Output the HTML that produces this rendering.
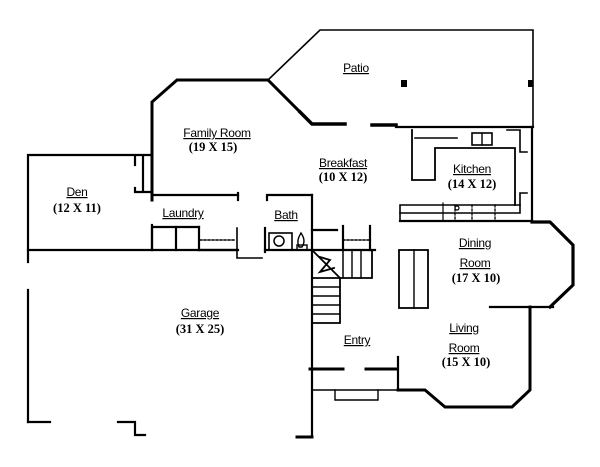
<!DOCTYPE html>
<html><head><meta charset="utf-8"><style>
html,body{margin:0;padding:0;background:#fff}
svg{display:block}
.l{font-family:"Liberation Sans",sans-serif;font-size:12px;text-decoration:underline;text-anchor:middle;fill:#000;letter-spacing:-0.3px}
.d{font-family:"Liberation Serif",serif;font-size:12.5px;font-weight:bold;text-anchor:middle;fill:#000}
</style></head><body>
<svg width="600" height="467" viewBox="0 0 600 467" xmlns="http://www.w3.org/2000/svg">
<g fill="none" stroke="#000" stroke-width="2.2" stroke-linecap="square">
<!-- patio -->
<polyline points="268,80 320,30 533,30 533,127" stroke-width="1.6"/>
<line x1="396" y1="127" x2="533" y2="127"/>
<!-- family room -->
<polyline points="152,200 152,102 177,80 268,80 300,112" stroke-width="3"/>
<polyline points="300,112 312,124 345,124" stroke-width="3.5"/>
<line x1="372" y1="125" x2="396" y2="125" stroke-width="3.5"/>
<line x1="152" y1="225" x2="152" y2="250"/>
<!-- den -->
<polyline points="152,155 28,155 28,262" />
<line x1="28" y1="290" x2="28" y2="422"/>
<line x1="28" y1="250" x2="238" y2="250"/>
<line x1="135" y1="157" x2="135" y2="165"/>
<line x1="143" y1="157" x2="143" y2="192" stroke-dasharray="2,2"/>
<polyline points="135,188 135,192 150,192"/>
<!-- laundry/bath -->
<line x1="152" y1="195" x2="238" y2="195"/>
<line x1="238" y1="193" x2="238" y2="200"/>
<polyline points="267,200 267,195 312,195"/>
<polyline points="152,250 152,227 199,227"/>
<line x1="176" y1="227" x2="176" y2="250"/>
<line x1="199" y1="227" x2="199" y2="250"/>
<line x1="199" y1="250" x2="237" y2="250"/>
<line x1="200" y1="240" x2="236" y2="240" stroke-dasharray="2,2" stroke-width="1.5"/>
<polyline points="237,228 237,258 262,258" stroke-width="1.6"/>
<line x1="265" y1="228" x2="265" y2="252"/>
<line x1="265" y1="250" x2="375" y2="250"/>
<rect x="269" y="233" width="23" height="17" stroke-width="1.6"/>
<circle cx="279" cy="241" r="5" stroke-width="1.5"/>
<path d="M299,247 C296,240 300,235 301,233 C303,236 306,241 302,247 Z" stroke-width="1.4"/>
<rect x="297" y="245" width="10" height="5" stroke-width="1.4"/>
<!-- stairs -->
<line x1="312" y1="195" x2="312" y2="437"/>
<line x1="297" y1="437" x2="312" y2="437" stroke-width="3"/>
<line x1="312" y1="230" x2="337" y2="230"/>
<line x1="343" y1="226" x2="343" y2="250"/>
<line x1="370" y1="226" x2="370" y2="250"/>
<line x1="343" y1="240" x2="370" y2="240" stroke-dasharray="2,2" stroke-width="1.5"/>
<polyline points="312,250 340,278 372,278 372,250" stroke-width="1.8"/>
<line x1="343" y1="250" x2="343" y2="278" stroke-width="1.5"/>
<line x1="352" y1="250" x2="352" y2="278" stroke-width="1.4"/>
<line x1="361" y1="250" x2="361" y2="278" stroke-width="1.4"/>
<polyline points="320,257 330,260 320,272 334,268" stroke-width="1.8"/>
<polyline points="312,278 340,278 340,323 312,323" stroke-width="1.8"/>
<line x1="312" y1="287" x2="340" y2="287" stroke-width="1.4"/>
<line x1="312" y1="296" x2="340" y2="296" stroke-width="1.4"/>
<line x1="312" y1="305" x2="340" y2="305" stroke-width="1.4"/>
<line x1="312" y1="314" x2="340" y2="314" stroke-width="1.4"/>
<!-- garage -->
<line x1="28" y1="422" x2="50" y2="422"/>
<polyline points="118,422 135,422 135,435 145,435"/>
<!-- entry -->
<line x1="310" y1="369" x2="343" y2="369" stroke-width="3"/>
<line x1="366" y1="369" x2="397" y2="369" stroke-width="3"/>
<line x1="312" y1="390" x2="397" y2="390" stroke-width="1.4"/>
<polyline points="335,390 335,400 378,400 378,390" stroke-width="1.4"/>
<line x1="398" y1="357" x2="398" y2="390"/>
<!-- living -->
<polyline points="398,390 425,390 445,407 512,407 530,390 530,307" stroke-width="3"/>
<line x1="490" y1="307" x2="553" y2="307"/>
<!-- dining bay -->
<polyline points="532,222 550,222 573,245 573,285 550,307" stroke-width="3.2"/>
<rect x="399" y="250" width="29" height="58" stroke-width="1.8"/>
<line x1="414" y1="250" x2="414" y2="308" stroke-width="1.4"/>
<!-- kitchen -->
<line x1="532" y1="127" x2="532" y2="222"/>
<line x1="400" y1="221" x2="532" y2="221"/>
<polyline points="412,130 412,180 435,180 435,148 515,148 515,205" stroke-width="1.8"/>
<line x1="415" y1="138" x2="457" y2="138" stroke-width="1.6"/>
<rect x="472" y="133" width="20" height="12" stroke-width="1.6"/>
<line x1="482" y1="133" x2="482" y2="145" stroke-width="1.4"/>
<polyline points="507,130 520,130 520,152 527,152" stroke-width="1.6"/>
<polyline points="527,193 520,193 520,213 400,213" stroke-width="1.6"/>
<polyline points="520,205 400,205 400,221" stroke-width="1.6"/>
<line x1="455" y1="205" x2="455" y2="221" stroke-dasharray="2,2" stroke-width="1.3"/>
<line x1="472" y1="205" x2="472" y2="221" stroke-dasharray="2,2" stroke-width="1.3"/>
<line x1="495" y1="205" x2="495" y2="221" stroke-dasharray="2,2" stroke-width="1.3"/>
<circle cx="457" cy="208" r="2" stroke-width="1.2"/>
<line x1="443" y1="203" x2="443" y2="221" stroke-width="1.2"/>
</g>
<rect x="401" y="80" width="6" height="7" fill="#000"/>
<rect x="528" y="80" width="5" height="7" fill="#000"/>
<text class="l" x="356" y="72">Patio</text>
<text class="l" x="217" y="137">Family Room</text>
<text class="d" x="213" y="151">(19 X 15)</text>
<text class="l" x="343" y="167">Breakfast</text>
<text class="d" x="343" y="181">(10 X 12)</text>
<text class="l" x="472" y="173">Kitchen</text>
<text class="d" x="472" y="188">(14 X 12)</text>
<text class="l" x="77" y="196">Den</text>
<text class="d" x="77" y="212">(12 X 11)</text>
<text class="l" x="183" y="217">Laundry</text>
<text class="l" x="286" y="219">Bath</text>
<text class="l" x="475" y="247">Dining</text>
<text class="l" x="475" y="267">Room</text>
<text class="d" x="476" y="282">(17 X 10)</text>
<text class="l" x="200" y="317">Garage</text>
<text class="d" x="200" y="333">(31 X 25)</text>
<text class="l" x="357" y="344">Entry</text>
<text class="l" x="464" y="332">Living</text>
<text class="l" x="464" y="352">Room</text>
<text class="d" x="466" y="366">(15 X 10)</text>
</svg>
</body></html>
